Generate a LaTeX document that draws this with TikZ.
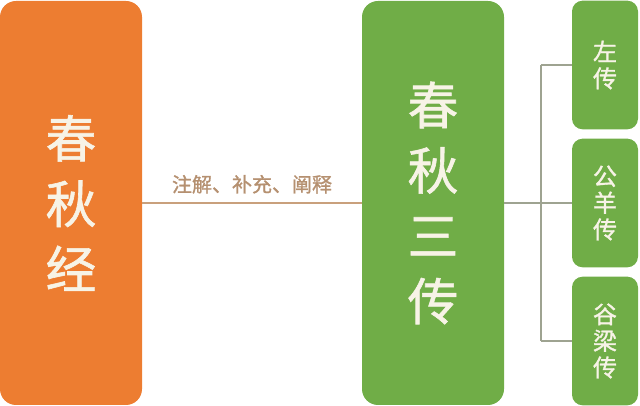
\documentclass[tikz,border=0pt]{standalone}
\usepackage{fontspec}
\newfontfamily\cjk[FakeBold=1.2]{Noto Sans CJK SC}
\newfontfamily\cjkxi{Noto Sans CJK SC}
\definecolor{jingorange}{HTML}{ED7D31}
\definecolor{zhuangreen}{HTML}{70AD47}
\definecolor{ziwhite}{HTML}{F7F3E6}
\definecolor{xianorange}{HTML}{C9A07C}
\definecolor{xiangrey}{HTML}{9EA391}
\tikzset{
	bigbox/.style={rounded corners=12pt, minimum width=106.5pt, minimum height=303pt, inner sep=0pt, text=ziwhite, align=center, font=\cjk\fontsize{38}{49}\selectfont},
	smallbox/.style={rounded corners=8pt, fill=zhuangreen, minimum width=49.5pt, minimum height=96.5pt, inner sep=0pt, text=ziwhite, align=center, font=\cjk\fontsize{18}{20}\selectfont},
	lianxian/.style={line width=1.1pt, xiangrey}
}
\begin{document}
\begin{tikzpicture}[x=0.75pt,y=-0.75pt]
	\useasboundingbox (0,0) rectangle (640,406);
	\node[bigbox, fill=jingorange] (jing) at (71,203) {春\\秋\\经};
	\node[bigbox, fill=zhuangreen] (sanzhuan) at (433,203) {春\\秋\\三\\传};
	\node[smallbox] (zuo) at (605,65) {左\\传};
	\node[smallbox] (gongyang) at (605,203) {公\\羊\\传};
	\node[smallbox] (guliang) at (605,341) {谷\\梁\\传};
	\draw[line width=1.5pt, xianorange] (jing.east) -- (sanzhuan.west)
		node[midway, above=3pt, text=xianorange!90!black, font=\cjk\fontsize{15}{16}\selectfont] {注解、补充、阐释};
	\coordinate (fork) at (541,203);
	\draw[lianxian] (sanzhuan.east) -- (fork);
	\draw[lianxian] (fork |- zuo.west) -- (fork |- guliang.west);
	\foreach \z in {zuo,gongyang,guliang}
		\draw[lianxian] (fork |- \z.west) -- (\z.west);
\end{tikzpicture}
\end{document}
